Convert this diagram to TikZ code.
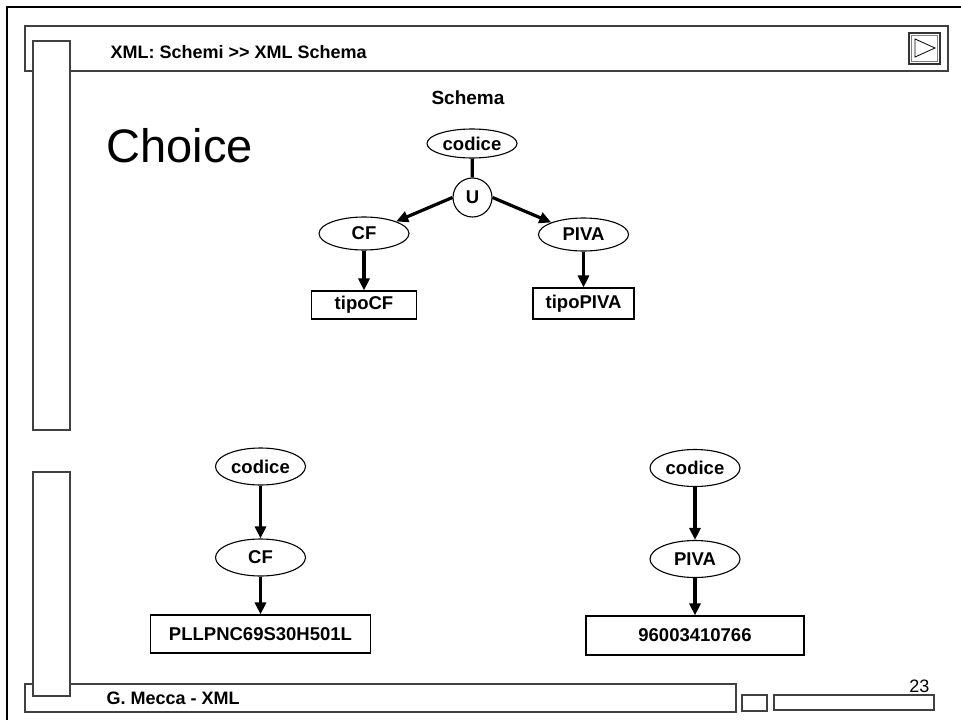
\documentclass[tikz,border=0pt]{standalone}
\usepackage{fontspec}
\setmainfont{Liberation Sans}
\usepackage{tikz}
\usetikzlibrary{shapes.geometric, arrows.meta, positioning}
\tikzstyle{arrow} = [line width=3.2pt, -{Triangle[length=12pt,width=11pt]}]
\tikzstyle{link}  = [line width=3.2pt]
\tikzstyle{elem}  = [ellipse, draw, line width=1.1pt, minimum width=90pt, minimum height=33pt, inner sep=0pt, font=\fontsize{18.5}{20}\selectfont\bfseries]
\tikzstyle{tipo}  = [rectangle, draw, line width=1.1pt, inner sep=0pt, font=\fontsize{18.5}{20}\selectfont\bfseries]
\tikzstyle{frame} = [draw=black!75, line width=1.2pt]
\tikzset{every node/.style={align=center}}

\begin{document}
\begin{tikzpicture}[x=1pt, y=-1pt]
    \useasboundingbox (0,0) rectangle (961,720);
    % slide frame
    \draw [line width=2.5pt] (7,720) -- (7,7) -- (961,7);
    \draw [frame] (25,26) rectangle (948,71);
    \draw [frame] (25,684) rectangle (736,712);
    \draw [frame] (742,695) rectangle (767,711);
    \draw [frame] (774,695) rectangle (934,710);
    \draw [frame, fill=white] (33,41) rectangle (70,430);
    \draw [frame, fill=white] (33,472) rectangle (70,696);
    \draw [draw=black!80, line width=1.5pt] (909,33) rectangle (940,64);
    \draw [draw=black!50, line width=1pt] (911.5,35.5) rectangle (937.5,61.5);
    \draw [line width=0.8pt] (915,39) -- (935,48) -- (915,57) -- cycle;

    \node (head) at (107,52) [anchor=west, font=\fontsize{18}{20}\selectfont\bfseries] {XML: Schemi >{}> XML Schema};
    \node (foot) at (103,698) [anchor=west, font=\fontsize{18}{20}\selectfont\bfseries] {G. Mecca - XML};
    \node (page) at (933,686) [anchor=east, font=\fontsize{18}{20}\selectfont] {23};
    \node (title) at (103,146) [anchor=west, font=\fontsize{47}{50}\selectfont] {Choice};
    \node (schema) at (468,98) [font=\fontsize{19}{21}\selectfont\bfseries] {Schema};

    % schema
    \node (cod)   at (472,143.5)   [elem, minimum height=29pt] {codice};
    \node (u)     at (472.5,197.5) [circle, draw, line width=1.1pt, minimum size=39pt, inner sep=0pt,
                                    font=\fontsize{18.5}{20}\selectfont\bfseries] {U};
    \node (cf)    at (364,233.5)   [elem] {CF};
    \node (piva)  at (583.5,234.5) [elem] {PIVA};
    \node (tcf)   at (364,305)     [tipo, minimum width=105pt, minimum height=28pt] {tipoCF};
    \node (tpiva) at (583.5,303.5) [tipo, minimum width=101pt, minimum height=31pt] {tipoPIVA};

    \draw [link]  (cod) -- (u);
    \draw [arrow] (u.west) -- (cf.north east);
    \draw [arrow] (u.east) -- (piva.north west);
    \draw [arrow] (cf) -- (tcf);
    \draw [arrow] (piva) -- (tpiva);

    % instances
    \node (cod1)  at (260.5,466.5) [elem, minimum height=37pt] {codice};
    \node (cf1)   at (260.5,557.5) [elem, minimum height=37pt] {CF};
    \node (val1)  at (260.5,634)   [tipo, minimum width=220pt, minimum height=38pt] {PLLPNC69S30H501L};
    \node (cod2)  at (695,468)     [elem, minimum height=37pt] {codice};
    \node (piva2) at (695,559)     [elem, minimum height=37pt] {PIVA};
    \node (val2)  at (695,635.5)   [tipo, minimum width=218pt, minimum height=39pt] {96003410766};

    \draw [arrow] (cod1) -- (cf1);
    \draw [arrow] (cf1) -- (val1);
    \draw [arrow] (cod2) -- (piva2);
    \draw [arrow] (piva2) -- (val2);
\end{tikzpicture}
\end{document}
